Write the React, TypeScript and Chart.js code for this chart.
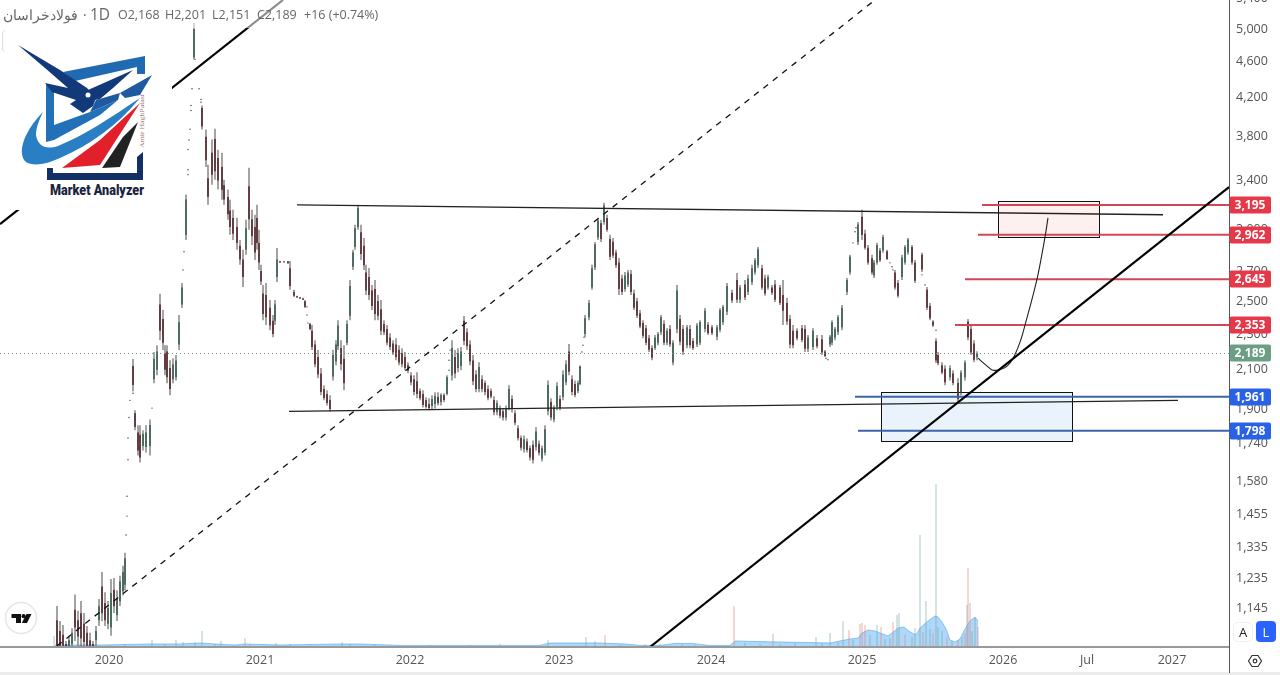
import React, { useEffect, useRef } from "react";
import { Chart, registerables } from "chart.js";

Chart.register(...registerables);

// Bar numbers are counted from the first bar of 2020 (negative = 2019).
const tickBars = [0, 151, 301, 450, 602, 753, 894, 978, 1063];
const tickLabels = ["2020", "2021", "2022", "2023", "2024", "2025", "2026", "Jul", "2027"];
const priceTicks = [5400, 5000, 4600, 4200, 3800, 3400, 3000, 2700, 2500, 2300, 2100, 1900, 1740, 1580, 1455, 1335, 1235, 1145];

const candleBars = [
  -52,-49,-46,-43,-40,-37,-34,-31,-28,-25,
  -22,-19,-16,-13,-10,-7,-4,-1,2,5,
  8,11,14,16,24,26,29,31,34,37,
  41,45,48,51,54,56,58,61,64,67,
  70,73,77,85,93,97,99,103,106,109,
  113,115,119,121,124,128,131,134,137,140,
  143,146,148,150,152,154,157,161,164,166,
  168,171,175,179,181,185,188,191,194,196,
  201,203,206,209,212,215,218,221,224,227,
  229,232,235,238,241,244,246,249,252,255,
  257,260,263,266,269,272,275,278,281,284,
  287,290,293,296,299,302,305,308,311,314,
  317,320,323,326,329,332,335,338,343,346,
  349,352,355,358,361,364,367,370,373,376,
  379,382,385,388,391,394,397,400,403,406,
  409,412,415,418,421,424,427,430,433,436,
  439,442,445,448,451,454,457,460,463,466,
  469,471,476,480,483,486,489,492,495,498,
  501,504,507,510,513,516,519,522,525,528,
  531,534,537,540,543,546,549,552,555,558,
  561,564,568,571,574,578,581,584,588,591,
  596,599,603,608,611,614,618,623,628,631,
  636,639,643,646,649,653,656,659,663,666,
  671,674,678,681,684,688,693,696,699,704,
  708,713,716,721,723,726,729,733,738,741,
  749,753,756,759,763,765,768,771,774,778,
  786,789,793,796,799,803,806,813,818,821,
  824,827,829,833,836,841,844,849,852,856,
  859,862,865,868,
];
const highs = [
  1151,1108,1097,1053,1067,1088,1185,1137,1166,1131,
  1094,1075,1053,1094,1172,1255,1192,1166,1233,1236,
  1198,1243,1275,1318,2158,1894,1823,1823,1800,1823,
  1851,2197,2236,2548,2446,2236,2236,2152,2163,2180,
  2415,2619,3280,5077,4115,3871,3540,3773,3880,3678,
  3650,3407,3322,3237,3156,3092,2923,2850,3076,3513,
  3156,3116,3196,2999,2743,2606,2619,2508,2415,2508,
  2864,2770,2770,2770,2770,2574,2535,2528,2522,2508,
  2365,2353,2264,2208,2109,2019,1993,1968,2208,2264,
  2383,2264,2236,2383,2639,2850,3037,3196,3037,2938,
  2743,2722,2606,2639,2541,2508,2383,2353,2305,2264,
  2276,2236,2219,2197,2141,2087,2071,2087,2003,1993,
  1958,1953,1968,1983,1983,1978,1978,2071,2264,2208,
  2219,2225,2408,2335,2264,2180,2098,2141,2071,2044,
  2019,2003,1963,1943,1918,1903,1918,2019,1968,1894,
  1823,1777,1777,1763,1732,1754,1814,1754,1732,1823,
  2044,1953,1918,2034,1968,2098,2152,2242,2071,2044,
  2044,2125,2415,2508,2743,2908,3092,3076,3212,3116,
  2961,2938,2850,2792,2674,2694,2708,2708,2574,2522,
  2446,2383,2353,2294,2236,2294,2312,2415,2383,2335,
  2353,2264,2606,2415,2353,2353,2353,2276,2365,2383,
  2458,2371,2353,2353,2458,2477,2619,2574,2687,2606,
  2639,2674,2743,2792,2871,2743,2674,2674,2606,2639,
  2606,2639,2522,2415,2353,2335,2353,2353,2294,2335,
  2294,2294,2208,2294,2383,2341,2415,2477,2653,2814,
  3060,3156,2999,2886,2814,2777,2901,2864,2961,2850,
  2708,2639,2814,2886,2938,2886,2777,2828,2592,2490,
  2383,2276,2197,2141,2125,2125,2098,2055,2098,2152,
  2390,2353,2264,2201,
];
const lows = [
  1020,1020,1020,1020,1020,1030,1053,1040,1020,1020,
  1020,1020,1020,1040,1094,1108,1094,1085,1067,1131,
  1108,1151,1182,1198,1987,1800,1688,1659,1710,1701,
  1688,2029,2071,2264,2208,2071,2029,1968,2029,2044,
  2208,2458,2923,4628,3871,3520,3196,3364,3407,3322,
  3237,3196,3076,2961,2923,2850,2743,2592,2814,2999,
  2886,2777,2850,2708,2606,2383,2353,2323,2282,2353,
  2626,2757,2760,2750,2574,2528,2522,2515,2508,2458,
  2323,2208,2114,2055,1968,1943,1918,1889,2044,2125,
  2208,2098,1993,2236,2383,2708,2850,2999,2777,2708,
  2541,2508,2446,2383,2383,2294,2294,2236,2208,2180,
  2152,2125,2114,2098,2082,2019,1968,1953,1943,1908,
  1903,1894,1898,1903,1918,1918,1933,1968,2044,2055,
  2087,2098,2236,2208,2125,2019,1983,1983,1983,1968,
  1943,1953,1870,1870,1856,1846,1846,1894,1884,1823,
  1754,1710,1701,1701,1667,1654,1710,1688,1663,1688,
  1870,1846,1837,1894,1894,1943,2019,2071,1968,1958,
  1978,2019,2282,2383,2574,2708,2923,2908,3037,2984,
  2777,2792,2722,2541,2541,2561,2592,2541,2446,2396,
  2335,2276,2236,2197,2152,2208,2236,2294,2236,2236,
  2225,2125,2305,2236,2180,2219,2219,2208,2225,2236,
  2311,2294,2294,2264,2311,2353,2415,2490,2490,2490,
  2508,2541,2606,2674,2722,2574,2535,2574,2541,2496,
  2477,2353,2353,2219,2219,2264,2253,2197,2197,2208,
  2219,2180,2169,2225,2236,2264,2294,2323,2541,2674,
  2886,2923,2850,2743,2674,2653,2743,2763,2828,2777,
  2574,2522,2639,2743,2814,2743,2619,2694,2446,2383,
  2341,2136,2125,2076,2019,2044,2019,1933,1968,2044,
  2264,2180,2141,2151,
];
const opens = [
  1110,1080,1070,1045,1035,1045,1140,1110,1130,1100,
  1075,1055,1045,1055,1110,1210,1160,1100,1090,1200,
  1125,1165,1195,1215,2120,1880,1790,1780,1730,1725,
  1730,2050,2100,2480,2390,2190,2200,2110,2050,2060,
  2240,2480,2960,4650,4090,3800,3420,3650,3780,3600,
  3520,3360,3260,3150,3090,3020,2880,2780,2850,3350,
  3080,3020,3090,2900,2700,2550,2540,2460,2380,2380,
  2660,2768,2766,2766,2720,2560,2532,2525,2518,2500,
  2360,2320,2240,2170,2080,2000,1975,1945,2065,2145,
  2230,2220,2160,2250,2410,2730,2870,3020,2980,2880,
  2690,2660,2570,2580,2500,2450,2360,2330,2280,2245,
  2240,2210,2190,2170,2125,2070,2050,2040,1990,1975,
  1945,1925,1915,1925,1960,1935,1970,1975,2070,2170,
  2110,2120,2380,2310,2240,2150,2075,2000,2050,2030,
  2000,1990,1945,1885,1905,1890,1860,1905,1950,1880,
  1810,1765,1715,1750,1720,1735,1725,1740,1675,1700,
  1890,1935,1850,1910,1950,1960,2035,2200,2050,2025,
  1990,2025,2300,2400,2590,2725,2940,3050,3060,3090,
  2930,2910,2830,2760,2650,2580,2610,2680,2550,2500,
  2425,2365,2335,2275,2220,2220,2250,2310,2360,2250,
  2330,2140,2330,2390,2330,2235,2330,2260,2240,2250,
  2330,2355,2340,2285,2325,2370,2435,2555,2640,2510,
  2610,2560,2625,2690,2740,2720,2650,2590,2590,2610,
  2590,2540,2490,2390,2320,2320,2335,2330,2215,2225,
  2275,2270,2200,2240,2250,2280,2310,2340,2560,2690,
  2905,3100,2970,2865,2790,2670,2760,2845,2845,2840,
  2690,2620,2660,2760,2830,2870,2760,2815,2575,2470,
  2375,2260,2180,2125,2105,2060,2080,2030,1985,2060,
  2375,2330,2245,2168,
];
const closes = [
  1040,1040,1040,1030,1055,1075,1090,1065,1060,1050,
  1040,1035,1030,1080,1150,1130,1110,1145,1190,1150,
  1175,1225,1255,1300,2020,1815,1710,1680,1785,1790,
  1825,2160,2200,2320,2250,2100,2060,2000,2130,2150,
  2370,2590,3240,5000,3900,3580,3260,3450,3480,3400,
  3320,3240,3120,3020,2970,2900,2780,2660,3010,3080,
  2950,2830,2900,2760,2630,2420,2400,2350,2300,2480,
  2780,2760,2762,2755,2600,2535,2525,2518,2510,2465,
  2330,2225,2130,2075,1985,1955,1930,1900,2180,2240,
  2350,2130,2030,2360,2600,2830,3010,3170,2820,2740,
  2570,2540,2470,2420,2410,2320,2310,2250,2225,2195,
  2170,2140,2130,2110,2095,2035,1985,1975,1955,1920,
  1912,1905,1950,1965,1930,1970,1945,2060,2220,2080,
  2190,2200,2260,2230,2145,2040,2000,2115,2000,1985,
  1955,1962,1885,1930,1868,1860,1905,2000,1900,1835,
  1765,1722,1760,1712,1680,1670,1795,1700,1720,1805,
  2020,1860,1905,2015,1905,2075,2130,2090,1985,1970,
  2030,2115,2395,2490,2720,2890,3070,2930,3190,3000,
  2800,2810,2740,2580,2560,2670,2690,2560,2460,2410,
  2345,2290,2250,2210,2165,2280,2300,2400,2250,2320,
  2240,2250,2570,2255,2200,2340,2235,2220,2350,2370,
  2440,2305,2305,2340,2445,2465,2600,2505,2510,2590,
  2525,2650,2720,2775,2855,2590,2550,2660,2555,2510,
  2490,2440,2375,2240,2235,2275,2265,2215,2280,2320,
  2230,2195,2175,2285,2370,2330,2400,2460,2640,2800,
  3040,2960,2865,2760,2690,2760,2885,2775,2945,2785,
  2590,2535,2795,2870,2925,2760,2635,2710,2460,2395,
  2350,2150,2135,2085,2035,2110,2030,1950,2085,2140,
  2280,2195,2155,2189,
];

// Isolated prints across the gaps.
const gapBars = [17,18,18,19,19,20,21,24,43,74,75,79,79,79,80,81,82,82,83,86,90,92,92,198,198,199,340,340,341,471,473,474,475,717,719,744,746,747,781,783,784,813,816,827];
const gapPrices = [1379,1447,1522,1670,1765,1860,1943,1978,1905,2708,2836,3451,3495,3678,3769,3875,4063,4115,4294,4628,4294,4179,4150,2465,2415,2365,2098,2152,2208,2114,2197,2236,2282,2163,2155,2901,2984,3015,2757,2730,2708,2674,2606,2323];

const volumeBars = [
  -55,-42,-29,-14,1,16,43,56,67,74,
  86,93,106,112,136,141,167,181,201,233,
  241,266,291,321,361,391,439,477,486,496,
  511,536,551,573,586,625,636,651,664,671,
  686,707,713,721,729,734,740,744,751,753,
  756,761,768,772,776,781,784,788,790,796,
  803,806,811,814,817,821,824,827,829,833,
  838,843,849,853,856,858,859,861,863,866,
  869,
];
const volumes = [
  5.5,1.5,1,1,1,1.5,3.5,1.5,3.5,2.5,
  2.5,8,1.5,3,4.5,1.5,2,1.5,1,2.5,
  1.5,1,1,1,1,1.5,3.5,5,3,6,
  1,1.5,1.5,1.5,1,20.5,2,1.5,6.5,1.5,
  2,5,2,7,2.5,13,8.5,3.5,11.5,12,
  11,6,11,10,4,4.5,12.5,16,17,6,
  5,9.5,56,7.5,23,9,7,81.5,10,8,
  5,3,3.5,5,7,21,39.5,22,8,14.5,
  10,
];
const volumeDown = [
  0,0,1,0,0,1,0,1,0,0,
  0,0,1,0,1,1,0,0,1,0,
  0,0,1,0,0,1,0,0,0,1,
  0,1,0,0,1,1,0,0,1,0,
  0,0,0,0,1,0,1,0,1,1,
  1,0,0,1,0,0,1,0,0,1,
  0,0,0,1,0,0,1,0,0,0,
  1,0,1,0,1,0,1,1,0,0,
  1,
];
const volumeMaBars = [-54,-9,41,71,91,106,126,136,171,231,251,291,371,431,441,491,516,531,551,566,583,600,621,626,671,721,736,741,749,753,759,766,771,779,783,789,795,801,807,811,819,826,829,833,837,841,846,851,856,861,866,869];
const volumeMa = [1,1,1.5,1.5,2,1.5,1,1.5,1,1.5,1.5,0.8,0.8,0.8,2,2,1.5,0.8,0.8,1.8,1.8,0.8,0.8,3,2.5,2,3.5,4,4.5,7,8.5,8,7,5.5,7,9.5,10,7.5,6,9.5,13,15.5,15,12.5,9,3.5,2.5,4,9,13,15,13];

const lastClose = 2189;
const levelPrices = [3195, 2962, 2645, 2353, 1961, 1798];
const levelStarts = [873, 869, 856, 846, 746, 749];
const levelColors = ["#d24656", "#d24656", "#d24656", "#d24656", "#3d64a8", "#3d64a8"];
const tagColors = ["#e5394a", "#e5394a", "#e5394a", "#e5394a", "#2962e6", "#2962e6"];

const steepBars = [-109, 174];
const steepPrices = [3043, 5383];
const risingBars = [541, 1120];
const risingPrices = [1037, 3344];
const dashedBars = [-52, 766];
const dashedPrices = [1040, 5383];
const topBars = [188, 1054];
const topPrices = [3196, 3116];
const bottomBars = [180, 1069];
const bottomPrices = [1889, 1943];
const pathBars = [869, 877, 884, 895, 903, 911, 916, 928, 936, 939];
const pathPrices = [2163, 2125, 2098, 2109, 2152, 2253, 2353, 2645, 2944, 3092];

const boxBars = [[889, 990], [772, 963]];
const boxPrices = [[3227, 2944], [1984, 1751]];
const boxFills = ["#fdf0ee", "#eaf3fb"];

const xMin = -109;
const xMax = 1120;
const yMin = 1037;
const yMax = 5383;
const volMax = 323.5;

const zip = (xs: number[], ys: number[]) => xs.map((x, i) => ({ x, y: ys[i] }));
const fmt = (v: number) => Number(v).toLocaleString("en-US");

const drawingLine = (xs: number[], ys: number[], color: string, width: number, extra: object = {}) => ({
  type: "line" as const,
  data: zip(xs, ys),
  borderColor: color,
  borderWidth: width,
  pointRadius: 0,
  yAxisID: "y",
  order: 1,
  ...extra,
});

const chartPlugin = {
  id: "tvFrame",
  beforeDatasetsDraw(chart: any) {
    const { ctx, scales } = chart;
    boxBars.forEach((bars, i) => {
      const x0 = scales.x.getPixelForValue(bars[0]);
      const x1 = scales.x.getPixelForValue(bars[1]);
      const y0 = scales.y.getPixelForValue(boxPrices[i][0]);
      const y1 = scales.y.getPixelForValue(boxPrices[i][1]);
      ctx.save();
      ctx.fillStyle = boxFills[i];
      ctx.fillRect(x0, y0, x1 - x0, y1 - y0);
      ctx.strokeStyle = "#111";
      ctx.lineWidth = 1;
      ctx.strokeRect(Math.round(x0) + 0.5, Math.round(y0) + 0.5, Math.round(x1 - x0), Math.round(y1 - y0));
      ctx.restore();
    });
  },
  afterDraw(chart: any) {
    const { ctx, scales, chartArea } = chart;
    ctx.save();
    ctx.fillStyle = "#999";
    ctx.fillRect(0, Math.round(chartArea.bottom) - 1, chartArea.right, 2);
    ctx.fillStyle = "#ececec";
    ctx.fillRect(0, 672, 1280, 3);
    ctx.fillStyle = "#555";
    ctx.fillRect(Math.round(chartArea.right), 0, 1, 673);

    const tag = (price: number, color: string) => {
      const y = Math.round(scales.y.getPixelForValue(price));
      ctx.fillStyle = color;
      ctx.beginPath();
      ctx.roundRect(chartArea.right + 0.5, y - 8.5, 41.5, 17, 2);
      ctx.fill();
      ctx.fillStyle = "#fff";
      ctx.font = 'bold 12px "Open Sans"';
      ctx.textAlign = "center";
      ctx.textBaseline = "middle";
      ctx.fillText(fmt(price), chartArea.right + 21, y + 0.5);
    };
    levelPrices.forEach((p, i) => tag(p, tagColors[i]));
    tag(lastClose, "#6b9e84");
    ctx.restore();
  },
};

function ChartLogo() {
  return (
    <svg width={1280} height={675} style={{ position: "absolute", left: 0, top: 0, pointerEvents: "none" }}>
      <rect x={5} y={30} width={167} height={180} fill="#fff" />
      <path d="M4.5 30.5 L2.5 32 V50 L4.5 51.5" fill="none" stroke="#ddd" />
      <polygon points="63,72 145,56 145,74 137,74 137,67 75,81" fill="#1f6ab0" />
      <polygon points="46,84 54,88 54,125 90,112 118,100 100,115 54,140 46,142" fill="#2270b8" />
      <path d="M43 112 C30 125 18 145 23 158 C27 168 45 165 60 158 C90 145 118 125 140 98 C110 118 85 135 58 146 C45 150 38 146 36 135 C36 128 39 120 43 112 Z" fill="#2a7fc4" />
      <polygon points="62,168 100,165 140,103 100,140" fill="#e2202c" />
      <polygon points="102,168 120,167 138,122 123,137" fill="#222" />
      <polygon points="47,168 47,180 143,180 143,152 137,157 137,173 53,173 53,168" fill="#122f66" />
      <polygon points="18,45 60,70 87,88 96,98 93,106 83,113 70,104 76,100 52,92 45,83 68,88 45,68" fill="#123a7a" />
      <polygon points="88,90 133,70 113,88 100,99 95,100" fill="#123a7a" />
      <polygon points="120,93 152,75 140,95 125,98" fill="#1f5aa0" />
      <polygon points="96,100 120,93 118,100 90,112" fill="#1f5aa0" />
      <circle cx={88} cy={95} r={2.5} fill="#fff" />
      <text x={50} y={195} textLength={94} lengthAdjust="spacingAndGlyphs" fontFamily="Roboto" fontWeight={900} fontSize={14} fill="#1a2540">Market Analyzer</text>
      <text transform="translate(144,148) rotate(-90)" textLength={54} lengthAdjust="spacingAndGlyphs" fontFamily="Liberation Serif" fontSize={7} fill="#a07878">Amir HaghPatast</text>
      <circle cx={21} cy={618} r={15.5} fill="#fff" stroke="#e6e6e6" strokeWidth={1.5} />
      <path d="M11.5 614 H21 V623 H16 V618 H11.5 Z" fill="#111" />
      <circle cx={23.6} cy={616.2} r={2.1} fill="#111" />
      <path d="M26.5 614 H31.5 L27 623 H21.8 Z" fill="#111" />
      <rect x={1233.5} y={622.5} width={19} height={19} rx={4} fill="#fff" stroke="#eee" />
      <text x={1243} y={637} textAnchor="middle" fontFamily="Open Sans" fontSize={13} fill="#222">A</text>
      <rect x={1256} y={621} width={20} height={21} rx={4} fill="#2962ff" />
      <text x={1266} y={637} textAnchor="middle" fontFamily="Open Sans" fontSize={13} fill="#fff">L</text>
      <polygon points="1248.5,661 1252,655.5 1258,655.5 1261.5,661 1258,666.5 1252,666.5" fill="none" stroke="#333" strokeWidth={1.2} />
      <circle cx={1255} cy={661} r={1.8} fill="none" stroke="#333" strokeWidth={1.2} />
    </svg>
  );
}

const headerSpans: [string, number, number][] = [
  ["فولادخراسان", 3, 14],
  ["·", 83, 14],
  ["1D", 90, 15.5],
  ["O2,168", 118, 12.5],
  ["H2,201", 165, 12.5],
  ["L2,151", 212, 12.5],
  ["C2,189", 257, 12.5],
  ["+16 (+0.74%)", 304, 12.5],
];

export default function App() {
  const ref = useRef<HTMLCanvasElement | null>(null);
  useEffect(() => {
    document.body.style.margin = "0";
    const up = closes.map((c, i) => c >= opens[i]);
    const chart = new Chart(ref.current as HTMLCanvasElement, {
      type: "bar",
      data: {
        datasets: [
          {
            type: "line",
            data: zip(volumeMaBars, volumeMa),
            yAxisID: "y1",
            borderColor: "rgba(98,176,234,0.7)",
            borderWidth: 1,
            backgroundColor: "rgba(120,190,245,0.6)",
            fill: "origin",
            pointRadius: 0,
            order: 8,
          },
          {
            type: "bar",
            data: zip(volumeBars, volumes),
            yAxisID: "y1",
            grouped: false,
            barThickness: 1,
            inflateAmount: 0,
            backgroundColor: volumeDown.map((d) => (d ? "rgba(222,130,130,0.65)" : "rgba(115,165,165,0.6)")),
            order: 7,
          },
          {
            type: "bar",
            data: candleBars.map((x, i) => ({ x, y: [lows[i], highs[i]] })),
            yAxisID: "y",
            grouped: false,
            barThickness: 1,
            inflateAmount: 0,
            backgroundColor: "#4a4a4a",
            order: 6,
          },
          {
            type: "bar",
            data: candleBars.map((x, i) => ({ x, y: [Math.min(opens[i], closes[i]), Math.max(opens[i], closes[i])] })),
            yAxisID: "y",
            grouped: false,
            barThickness: 2,
            inflateAmount: 0,
            backgroundColor: up.map((u) => (u ? "rgba(62,98,86,0.85)" : "rgba(88,44,48,0.85)")),
            order: 5,
          },
          {
            type: "scatter",
            data: zip(gapBars, gapPrices),
            yAxisID: "y",
            pointRadius: 0.7,
            backgroundColor: "#333",
            borderWidth: 0,
            order: 4,
          },
          drawingLine([xMin, xMax], [lastClose, lastClose], "#6f8f80", 1, { borderDash: [1, 3], order: 3 }),
          ...levelPrices.map((p, i) => drawingLine([levelStarts[i], xMax], [p, p], levelColors[i], 2, { order: 2 })),
          drawingLine(steepBars, steepPrices, "#000", 2.2),
          drawingLine(risingBars, risingPrices, "#000", 2.2),
          drawingLine(dashedBars, dashedPrices, "#111", 1.3, { borderDash: [6, 6] }),
          drawingLine(topBars, topPrices, "#222", 1.3),
          drawingLine(bottomBars, bottomPrices, "#222", 1.3),
          drawingLine(pathBars, pathPrices, "#222", 1.1, { tension: 0.35 }),
        ] as any,
      },
      options: {
        animation: false,
        responsive: false,
        layout: { padding: 0, autoPadding: false },
        plugins: { legend: { display: false }, tooltip: { enabled: false }, title: { display: false } },
        scales: {
          x: {
            type: "linear",
            min: xMin,
            max: xMax,
            offset: false,
            grid: { display: false, drawTicks: false },
            border: { display: false },
            afterBuildTicks: (axis: any) => {
              axis.ticks = tickBars.map((value) => ({ value }));
            },
            afterFit: (axis: any) => {
              axis.height = 28;
              axis.paddingLeft = 0;
              axis.paddingRight = 0;
            },
            ticks: {
              autoSkip: false,
              maxRotation: 0,
              padding: 6,
              color: "#555",
              font: { family: '"Open Sans"', size: 12.5 },
              callback: (v: any) => tickLabels[tickBars.indexOf(Number(v))] ?? "",
            },
          },
          y: {
            type: "logarithmic",
            position: "right",
            min: yMin,
            max: yMax,
            grid: { display: false, drawTicks: false },
            border: { display: false },
            afterBuildTicks: (axis: any) => {
              axis.ticks = priceTicks.map((value) => ({ value }));
            },
            afterFit: (axis: any) => {
              axis.width = 51;
              axis.paddingTop = 0;
              axis.paddingBottom = 0;
            },
            ticks: {
              autoSkip: false,
              padding: 7,
              color: "#555",
              font: { family: '"Open Sans"', size: 12.5 },
              callback: (v: any) => fmt(v),
            },
          },
          y1: { type: "linear", display: false, min: 0, max: volMax },
        },
      } as any,
      plugins: [chartPlugin],
    });
    return () => chart.destroy();
  }, []);

  return (
    <div style={{ position: "fixed", left: 0, top: 0, width: 1280, height: 675, background: "#fff", overflow: "hidden" }}>
      <canvas ref={ref} width={1280} height={675} style={{ display: "block" }} />
      <ChartLogo />
      <div style={{ position: "absolute", left: 0, top: 0, width: 385, height: 28, background: "rgba(255,255,255,0.55)", fontFamily: '"Open Sans"', color: "#666" }}>
        {headerSpans.map(([t, left, size]) => (
          <span key={t} style={{ position: "absolute", left, top: 15 - size * 0.7, fontSize: size, lineHeight: `${size * 1.4}px`, whiteSpace: "nowrap" }}>{t}</span>
        ))}
      </div>
    </div>
  );
}
